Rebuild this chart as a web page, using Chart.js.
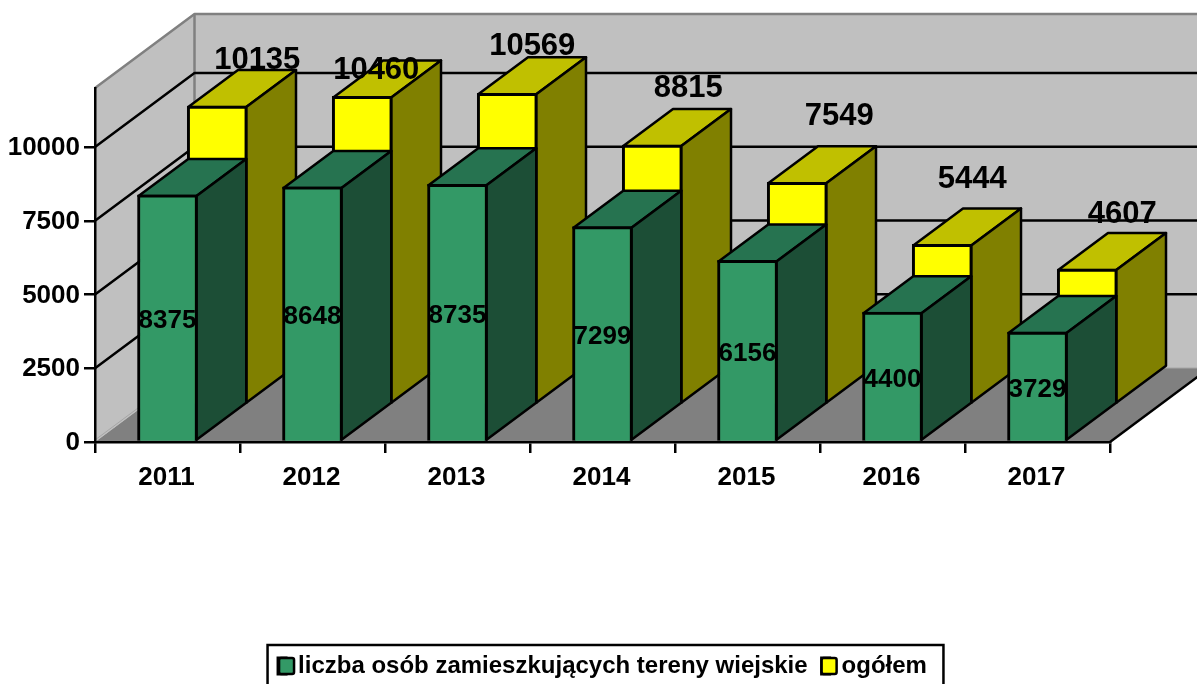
<!DOCTYPE html>
<html>
<head>
<meta charset="utf-8">
<style>html,body{margin:0;padding:0;background:#fff;overflow:hidden}canvas{display:block}</style>
<script src="https://cdn.jsdelivr.net/npm/chart.js@4"></script>
</head>
<body>
<canvas id="c" width="1197" height="684"></canvas>
<script>
const categories = ['2011','2012','2013','2014','2015','2016','2017'];
const ruralValues = [8375,8648,8735,7299,6156,4400,3729];
const totalValues = [10135,10460,10569,8815,7549,5444,4607];
const seriesNames = ['liczba osób zamieszkujących tereny wiejskie','ogółem'];
const yTickLabels = [0,2500,5000,7500,10000];

// hand-placed data-label nudges of the upper series, as in the source chart
const totalLabelDx = [40,14,25,36,42,30,35];
const totalLabelDy = [-46,-26,-47,-57,-66,-65,-55];

const FONT = '"Liberation Sans", Arial, sans-serif';
const DX = 49.75, DY = 37, LW = 2.5;
const CHART_LEFT = 95, CHART_RIGHT = 1110, CHART_TOP = 88, CHART_BOTTOM = 442;
const LEGEND_H = 48, PAD_BOTTOM = -4;
const faces = [
  {top:'#267350', side:'#1C4E36'},
  {top:'#C0C000', side:'#808000'}
];

function poly(ctx, pts, fill, stroke, lw){
  ctx.beginPath();
  pts.forEach((p,i)=> i? ctx.lineTo(p[0],p[1]) : ctx.moveTo(p[0],p[1]));
  ctx.closePath();
  if(fill){ctx.fillStyle=fill;ctx.fill();}
  if(stroke){ctx.strokeStyle=stroke;ctx.lineWidth=lw||LW;ctx.lineJoin='round';ctx.stroke();}
}
function seg(ctx, pts, color, lw){
  ctx.beginPath();
  pts.forEach((p,i)=> i? ctx.lineTo(p[0],p[1]) : ctx.moveTo(p[0],p[1]));
  ctx.lineJoin='round';
  ctx.strokeStyle=color;ctx.lineWidth=lw||LW;ctx.stroke();
}

const scene3d = {
  id:'scene3d',
  beforeDraw(chart){
    const {ctx, chartArea:a, scales:{y}} = chart;
    const bx = 2*DX, by = 2*DY, far = 1300;
    ctx.save();
    poly(ctx,[[a.left,a.top],[a.left+bx,a.top-by],[a.left+bx,a.bottom-by],[a.left,a.bottom]],'#C0C0C0');
    poly(ctx,[[a.left+bx,a.top-by],[far,a.top-by],[far,a.bottom-by],[a.left+bx,a.bottom-by]],'#C0C0C0');
    poly(ctx,[[a.left,a.bottom],[a.right,a.bottom],[a.right+bx,a.bottom-by],[a.left+bx,a.bottom-by]],'#808080');
    seg(ctx,[[a.right,a.bottom],[a.right+bx,a.bottom-by]],'#000',LW);
    seg(ctx,[[a.left,a.bottom-2],[a.left+bx,a.bottom-by-2]],'#A6A6A6',1);
    seg(ctx,[[a.left+bx,a.bottom-by],[a.left+bx,a.top-by]],'#808080',LW);
    seg(ctx,[[a.left,a.top],[a.left+bx,a.top-by],[far,a.top-by]],'#808080',LW);
    seg(ctx,[[a.left+bx,a.bottom-by],[far,a.bottom-by]],'#A6A6A6',1);
    yTickLabels.filter(v=>v>0).forEach(v=>{
      const py = y.getPixelForValue(v);
      seg(ctx,[[a.left,py],[a.left+bx,py-by],[far,py-by]],'#000',LW);
    });
    ctx.restore();
  },
  beforeDatasetDraw(chart,args){
    const {ctx} = chart;
    const k = args.index, f = faces[k];
    ctx.save();
    ctx.translate(k*DX,-k*DY);
    args.meta.data.forEach(el=>{
      const half = el.width/2-1, l=el.x-half, r=el.x+half, t=el.y+1, b=el.base-1;
      poly(ctx,[[l,t],[l+DX,t-DY],[r+DX,t-DY],[r,t]],f.top,'#000',LW);
      poly(ctx,[[r,t],[r+DX,t-DY],[r+DX,b-DY],[r,b]],f.side,'#000',LW);
    });
  },
  afterDatasetDraw(chart){ chart.ctx.restore(); },
  afterDatasetsDraw(chart){
    const {ctx} = chart;
    ctx.save();
    ctx.fillStyle='#000';
    ctx.textAlign='center';ctx.textBaseline='middle';
    const m1 = chart.getDatasetMeta(1);
    ctx.font='bold 31px '+FONT;
    m1.data.forEach((el,i)=>{
      ctx.fillText(String(totalValues[i]), el.x+DX+totalLabelDx[i], el.y-DY+totalLabelDy[i]);
    });
    const m0 = chart.getDatasetMeta(0);
    ctx.font='bold 26px '+FONT;
    m0.data.forEach((el,i)=>{
      ctx.fillText(String(ruralValues[i]), el.x, (el.y+el.base)/2+3);
    });
    ctx.restore();
  },
  afterDraw(chart){
    const {ctx, legend} = chart;
    const hb = legend.legendHitBoxes;
    if(!hb||!hb.length) return;
    ctx.save();
    const last = hb[hb.length-1];
    const cy = hb[0].top+hb[0].height/2;
    ctx.strokeStyle='#000';ctx.lineWidth=LW;
    ctx.strokeRect(hb[0].left-10.5, 645, last.left+last.width-hb[0].left+27, 60);
    hb.forEach((h,i)=>{
      ctx.fillStyle = chart.data.datasets[i].backgroundColor;
      ctx.beginPath();
      ctx.roundRect(h.left+1-(i?1:0), cy-8, 15, 16, 2);
      ctx.fill();
      ctx.strokeStyle='#000';ctx.lineWidth=LW;ctx.stroke();
    });
    ctx.restore();
  }
};

new Chart(document.getElementById('c'),{
  type:'bar',
  data:{
    labels:categories,
    datasets:[
      {label:seriesNames[0],data:ruralValues,backgroundColor:'#339966',borderColor:'#000',borderWidth:3,barThickness:60,grouped:false,clip:false},
      {label:seriesNames[1],data:totalValues,backgroundColor:'#FFFF00',borderColor:'#000',borderWidth:3,barThickness:60,grouped:false,clip:false}
    ]
  },
  plugins:[scene3d],
  options:{
    responsive:false,
    animation:false,
    layout:{padding:{left:0,top:CHART_TOP,right:1197-CHART_RIGHT,bottom:PAD_BOTTOM}},
    plugins:{
      tooltip:{enabled:false},
      title:{display:false},
      legend:{
        position:'bottom',
        fullSize:false,
        labels:{
          color:'#000',
          boxWidth:8,
          boxHeight:16,
          padding:14,
          font:{family:FONT,size:24,weight:'bold'}
        }
      }
    },
    scales:{
      x:{
        offset:true,
        afterFit(s){ s.height = 684-PAD_BOTTOM-CHART_BOTTOM-LEGEND_H; },
        grid:{display:true,drawOnChartArea:false,color:'#000',lineWidth:2.5,tickLength:11,tickColor:'#000'},
        border:{display:true,color:'#000',width:2.5},
        ticks:{color:'#000',padding:9,maxRotation:0,labelOffset:-1,font:{family:FONT,size:26,weight:'bold'}}
      },
      y:{
        min:0,max:12000,
        afterFit(s){ s.width = CHART_LEFT; },
        afterBuildTicks(s){ s.ticks = yTickLabels.map(v=>({value:v})); },
        grid:{display:true,drawOnChartArea:false,color:'#000',lineWidth:2.5,tickLength:11,tickColor:'#000'},
        border:{display:true,color:'#000',width:2.5},
        ticks:{color:'#000',padding:4,labelOffset:1,callback:v=>String(v),font:{family:FONT,size:26,weight:'bold'}}
      }
    }
  }
});
</script>
</body>
</html>
